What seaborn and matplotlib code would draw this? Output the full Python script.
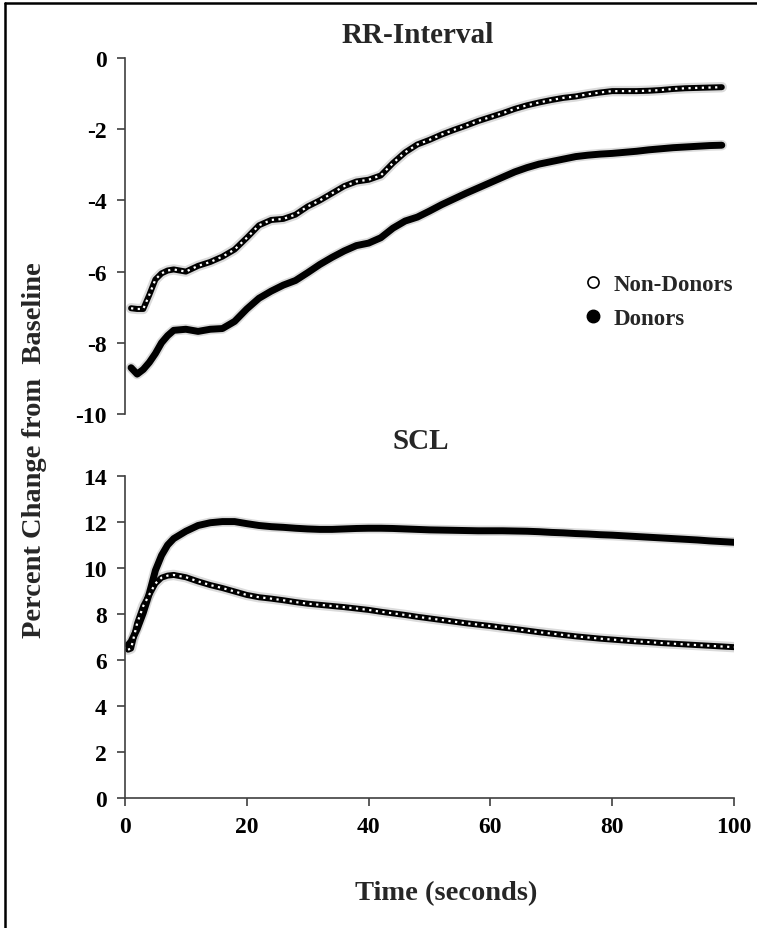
import pandas as pd
import matplotlib.pyplot as plt
import seaborn as sns
from matplotlib.lines import Line2D

# RR-Interval panel (percent change from baseline)
time_rr = [1, 2, 3, 4, 5, 6, 7, 8, 10, 12, 14, 16, 18, 20, 22, 24, 26, 28, 30,
           32, 34, 36, 38, 40, 42, 44, 46, 48, 50, 52, 54, 56, 58, 60, 62, 64,
           66, 68, 70, 72, 74, 76, 78, 80, 82, 84, 86, 88, 90, 92, 94, 96, 98]
rr_non_donors = [-7.03, -7.05, -7.05, -6.65, -6.22, -6.05, -5.97, -5.94, -6.0,
                 -5.84, -5.73, -5.58, -5.38, -5.05, -4.7, -4.55, -4.52, -4.4,
                 -4.17, -4.0, -3.8, -3.6, -3.47, -3.42, -3.3, -2.95, -2.65,
                 -2.43, -2.3, -2.15, -2.02, -1.9, -1.77, -1.66, -1.55, -1.43,
                 -1.33, -1.25, -1.18, -1.12, -1.08, -1.02, -0.97, -0.93, -0.93,
                 -0.93, -0.92, -0.9, -0.87, -0.85, -0.84, -0.83, -0.82]
rr_donors = [-8.7, -8.88, -8.75, -8.55, -8.3, -8.0, -7.8, -7.65, -7.62, -7.68,
             -7.62, -7.6, -7.4, -7.05, -6.75, -6.55, -6.38, -6.25, -6.03, -5.8,
             -5.6, -5.42, -5.27, -5.2, -5.05, -4.78, -4.58, -4.47, -4.3, -4.12,
             -3.96, -3.8, -3.65, -3.5, -3.35, -3.2, -3.08, -2.98, -2.91, -2.84,
             -2.77, -2.73, -2.7, -2.68, -2.65, -2.62, -2.58, -2.55, -2.52, -2.5,
             -2.48, -2.46, -2.45]

# SCL panel
time_scl = [0.5, 1, 2, 3, 4, 5, 6, 7, 8, 10, 12, 14, 16, 18, 20, 22, 24, 26,
            28, 30, 32, 34, 36, 38, 40, 42, 44, 46, 48, 50, 52, 54, 56, 58, 60,
            62, 64, 66, 68, 70, 72, 74, 76, 78, 80, 82, 84, 86, 88, 90, 92, 94,
            96, 98, 100]
scl_non_donors = [6.45, 6.5, 7.6, 8.35, 8.85, 9.33, 9.58, 9.67, 9.7, 9.6, 9.42,
                  9.26, 9.13, 8.98, 8.83, 8.73, 8.67, 8.6, 8.52, 8.45, 8.4, 8.35,
                  8.3, 8.24, 8.18, 8.1, 8.03, 7.96, 7.88, 7.81, 7.74, 7.67, 7.6,
                  7.54, 7.48, 7.41, 7.35, 7.28, 7.21, 7.15, 7.09, 7.03, 6.98,
                  6.93, 6.89, 6.85, 6.81, 6.78, 6.74, 6.71, 6.68, 6.65, 6.62,
                  6.59, 6.56]
scl_donors = [6.65, 6.8, 7.35, 8.05, 8.9, 9.9, 10.55, 11.0, 11.28, 11.6, 11.85,
              11.97, 12.02, 12.02, 11.93, 11.85, 11.8, 11.77, 11.73, 11.7,
              11.68, 11.68, 11.7, 11.72, 11.73, 11.73, 11.72, 11.7, 11.68,
              11.66, 11.65, 11.64, 11.63, 11.62, 11.62, 11.62, 11.61, 11.6,
              11.58, 11.55, 11.53, 11.5, 11.48, 11.45, 11.43, 11.4, 11.37,
              11.34, 11.31, 11.28, 11.25, 11.22, 11.18, 11.15, 11.12]

rr = pd.DataFrame({'Time': time_rr, 'Non-Donors': rr_non_donors, 'Donors': rr_donors})
scl = pd.DataFrame({'Time': time_scl, 'Non-Donors': scl_non_donors, 'Donors': scl_donors})

sns.set_style('ticks')
plt.rcParams['font.family'] = ['Liberation Serif', 'DejaVu Serif']
plt.rcParams['font.weight'] = 'bold'
plt.rcParams['axes.unicode_minus'] = False

fig = plt.figure(figsize=(7.57, 9.29), dpi=100)
ax1 = fig.add_axes([0.1651, 0.5533, 0.8045, 0.3832])
ax2 = fig.add_axes([0.1651, 0.1399, 0.8045, 0.3466])

spine_col = '#404040'


def draw_curves(ax, df):
    # soft halo like the original export
    for col in ['Non-Donors', 'Donors']:
        sns.lineplot(data=df, x='Time', y=col, ax=ax, color='#b0b0b0',
                     lw=7.5, alpha=0.45, errorbar=None)
    # donors: solid thick black
    sns.lineplot(data=df, x='Time', y='Donors', ax=ax, color='black', lw=5.0,
                 errorbar=None, solid_capstyle='round')
    # non-donors: chain of open markers (black band with white dots)
    sns.lineplot(data=df, x='Time', y='Non-Donors', ax=ax, color='black', lw=4.3,
                 errorbar=None, solid_capstyle='round')
    sns.lineplot(data=df, x='Time', y='Non-Donors', ax=ax, color='white', lw=1.6,
                 errorbar=None, linestyle=(0, (1, 2.0)), dash_capstyle='butt')


draw_curves(ax1, rr)
draw_curves(ax2, scl)

for ax in (ax1, ax2):
    ax.set_xlim(0, 100)
    ax.set_xlabel('')
    ax.set_ylabel('')
    for s in ['top', 'right']:
        ax.spines[s].set_visible(False)
    for s in ['left', 'bottom']:
        ax.spines[s].set_color(spine_col)
        ax.spines[s].set_linewidth(1.2)
    ax.tick_params(direction='out', length=6, width=1.2, color=spine_col,
                   labelsize=17, pad=7, labelcolor='black')

ax1.set_ylim(-10, 0)
ax1.set_yticks([0, -2, -4, -6, -8, -10])
ax1.spines['bottom'].set_visible(False)
ax1.tick_params(axis='x', bottom=False, labelbottom=False)

ax2.set_ylim(0, 14)
ax2.set_yticks([0, 2, 4, 6, 8, 10, 12, 14])
ax2.set_xticks([0, 20, 40, 60, 80, 100])

for lab in ax1.get_yticklabels() + ax2.get_yticklabels() + ax2.get_xticklabels():
    lab.set_fontweight('bold')

# legend in the RR panel
handles = [Line2D([], [], ls='', marker='o', ms=8, mfc='white', mec='black', mew=1.2),
           Line2D([], [], ls='', marker='o', ms=9, mfc='black', mec='black')]
ax1.legend(handles, ['Non-Donors', 'Donors'], loc='upper left',
           bbox_to_anchor=(0.72, 0.45), frameon=False, handlelength=0.8,
           handletextpad=0.5, labelspacing=0.55,
           prop={'size': 16.5, 'weight': 'bold'})

fig.text(0.552, 0.962, 'RR-Interval', ha='center', va='center', fontsize=21, fontweight='bold')
fig.text(0.556, 0.525, 'SCL', ha='center', va='center', fontsize=21, fontweight='bold')
fig.text(0.046, 0.516, 'Percent Change from  Baseline', rotation=90, ha='center',
         va='center', fontsize=20.5, fontweight='bold')
fig.text(0.589, 0.038, 'Time (seconds)', ha='center', va='center', fontsize=20.5, fontweight='bold')

# frame lines at the left and top edge of the picture
fig.add_artist(Line2D([0.006, 0.006], [0, 0.996], color='black', lw=1.8, transform=fig.transFigure))
fig.add_artist(Line2D([0.006, 1.0], [0.996, 0.996], color='black', lw=1.8, transform=fig.transFigure))

fig.savefig('out.png', dpi=100)
